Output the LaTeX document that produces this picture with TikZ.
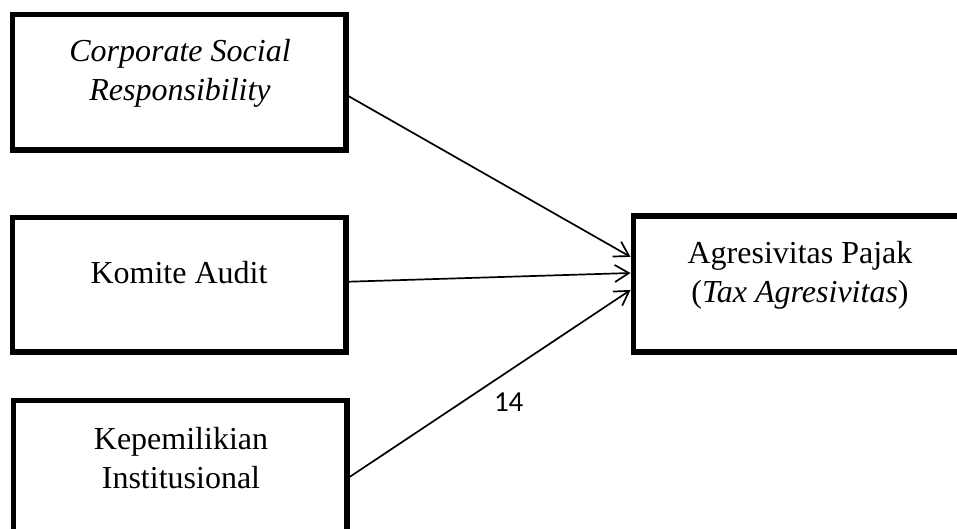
\documentclass[tikz,border=0pt]{standalone}
\usepackage{fontspec}
\setmainfont{Liberation Serif}
\newfontfamily\calibrifont{Carlito}
\usetikzlibrary{arrows.meta,calc}
\begin{document}
\begin{tikzpicture}[x=1pt,y=-1pt,
  box/.style={draw,line width=5.5pt,minimum width=333.5pt,inner sep=0pt,anchor=north west},
  lbl/.style={font=\fontsize{32}{39}\selectfont,align=center,anchor=base,inner sep=0pt},
  arr/.style={line width=1.7pt,-{Straight Barb[length=14pt,width=17pt,line width=1.7pt]}}]
\useasboundingbox (0,0) rectangle (957,528);
\clip (0,0) rectangle (957,528);
\node[box,minimum height=135.5pt] (b1) at (9.5,11.5) {};
\node[box,minimum height=134.5pt] (b2) at (9.5,214.5) {};
\node[box,minimum height=135.5pt] (b3) at (10.5,397.5) {};
\node[box,minimum height=136pt] (b4) at (630.5,213) {};
\node[lbl] (t1) at (180,100.5) {\itshape Corporate Social\\\itshape Responsibility};
\node[lbl] (t2) at (179,283) {Komite Audit};
\node[lbl] (t3) at (181,488) {Kepemilikian\\Institusional};
\node[lbl] (t4) at (800,302) {Agresivitas Pajak\\(\textit{Tax Agresivitas})};
\node[font=\calibrifont\fontsize{29}{32}\selectfont,anchor=base,inner sep=0pt] (pg) at (508.7,411) {14};
\coordinate (s1) at ($(b1.north east)!0.60!(b1.south east)$);
\coordinate (s2) at ($(b2.north east)!0.48!(b2.south east)$);
\coordinate (s3) at ($(b3.north east)!0.564!(b3.south east)$);
\coordinate (e1) at ($(b4.north west)!0.31!(b4.south west)$);
\coordinate (e2) at ($(b4.north west)!0.424!(b4.south west)$);
\coordinate (e3) at ($(b4.north west)!0.544!(b4.south west)$);
\draw[arr] (s1) -- (e1);
\draw[arr] (s2) -- (e2);
\draw[arr] (s3) -- (e3);
\end{tikzpicture}
\end{document}
